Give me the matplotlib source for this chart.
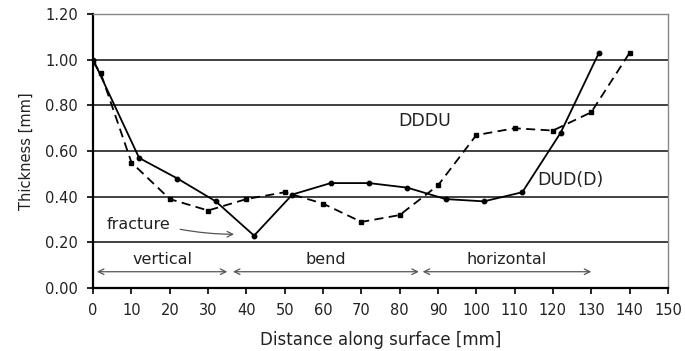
import matplotlib.pyplot as plt

plt.rcParams['font.family'] = ['DejaVu Sans']

# DUD(D) - solid line
dud_x = [0, 12, 22, 32, 42, 52, 62, 72, 82, 92, 102, 112, 122, 132]
dud_y = [1.00, 0.57, 0.48, 0.38, 0.23, 0.41, 0.46, 0.46, 0.44, 0.39, 0.38, 0.42, 0.68, 1.03]

# DDDU - dashed line
dddu_x = [0, 2, 10, 20, 30, 40, 50, 60, 70, 80, 90, 100, 110, 120, 130, 140]
dddu_y = [0.99, 0.94, 0.55, 0.39, 0.34, 0.39, 0.42, 0.37, 0.29, 0.32, 0.45, 0.67, 0.70, 0.69, 0.77, 1.03]

x_ticks = list(range(0, 151, 10))
y_ticks = [0.0, 0.2, 0.4, 0.6, 0.8, 1.0, 1.2]

# regions along the surface: (label, start, end)
regions = [('vertical', 1, 35), ('bend', 36.5, 85), ('horizontal', 86, 130)]

txt = '#222222'

fig = plt.figure(figsize=(6.85, 3.51), dpi=100)
ax = fig.add_axes([0.136, 0.179, 0.839, 0.781])

for y in y_ticks[1:]:
    ax.axhline(y, color='#333333', lw=1.3, zorder=1)

ax.plot(dud_x, dud_y, '-', color='black', lw=1.3, marker='o', ms=3.2, zorder=3)
ax.plot(dddu_x, dddu_y, '--', color='black', lw=1.3, dashes=(5, 3),
        marker='s', ms=3.2, zorder=3)

ax.set_xlim(0, 150)
ax.set_ylim(0, 1.2)
ax.set_xticks(x_ticks)
ax.set_yticks(y_ticks)
ax.set_yticklabels([f'{v:.2f}' for v in y_ticks])
ax.tick_params(axis='both', direction='out', length=4, width=1.2,
               labelsize=10.5, colors='black', labelcolor=txt)
ax.tick_params(axis='y', pad=7)
ax.tick_params(axis='x', pad=7)

for side in ['top', 'right']:
    ax.spines[side].set_color('#888888')
    ax.spines[side].set_linewidth(1.0)
for side in ['left', 'bottom']:
    ax.spines[side].set_color('black')
    ax.spines[side].set_linewidth(1.6)

ax.set_xlabel('Distance along surface [mm]', fontsize=12, color=txt)
ax.set_ylabel('Thickness [mm]', fontsize=10.5, color=txt)
ax.xaxis.set_label_coords(0.5, -0.155)
ax.yaxis.set_label_coords(-0.104, 0.5)

ax.text(79.5, 0.73, 'DDDU', fontsize=12.5, color=txt, va='center')
ax.text(116, 0.475, 'DUD(D)', fontsize=12.5, color=txt, va='center')
ax.text(3.5, 0.28, 'fracture', fontsize=11.5, color=txt, va='center')
ax.annotate('', xy=(37.5, 0.236), xytext=(22, 0.26),
            arrowprops=dict(arrowstyle='->', color='#555555', lw=0.9,
                            connectionstyle='arc3,rad=0.05'))

for label, x0, x1 in regions:
    ax.annotate('', xy=(x0, 0.072), xytext=(x1, 0.072),
                arrowprops=dict(arrowstyle='<->', color='#555555', lw=0.9,
                                shrinkA=0, shrinkB=0))
    ax.text((x0 + x1) / 2, 0.125, label, fontsize=11.5, color=txt,
            ha='center', va='center')

fig.savefig('out.png', dpi=100)
